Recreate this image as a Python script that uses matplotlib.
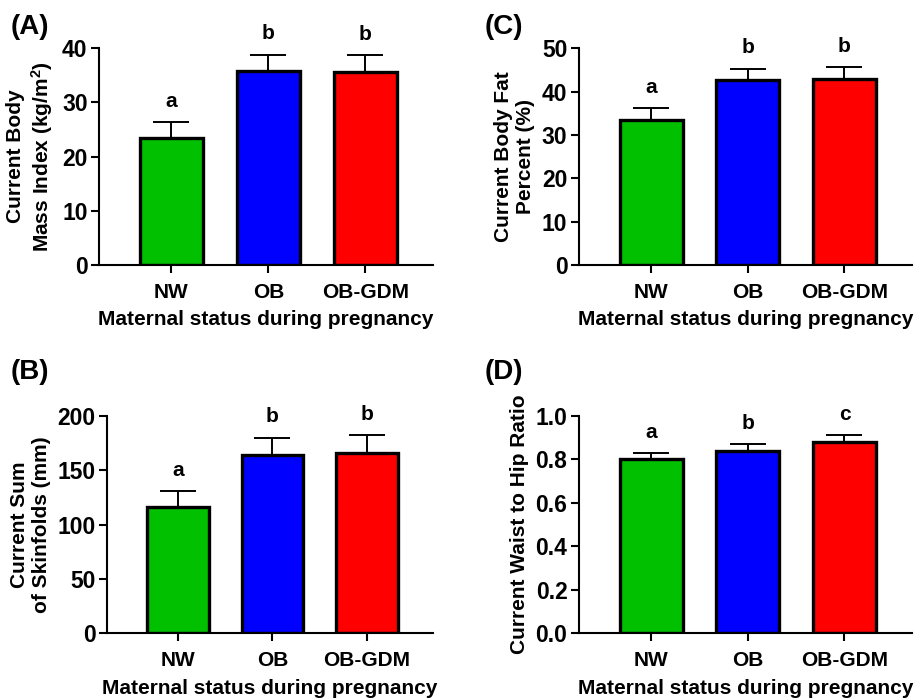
import numpy as np
import matplotlib
matplotlib.use("Agg")
import matplotlib.pyplot as plt

plt.rcParams['font.family'] = ['Liberation Sans', 'DejaVu Sans']
plt.rcParams['font.weight'] = 'bold'
plt.rcParams['mathtext.fontset'] = 'custom'
plt.rcParams['mathtext.rm'] = 'Liberation Sans:bold'
plt.rcParams['mathtext.it'] = 'Liberation Sans:bold'
plt.rcParams['mathtext.bf'] = 'Liberation Sans:bold'

groups = ['NW', 'OB', 'OB-GDM']
colors = ['#00c000', '#0000ff', '#ff0000']
xlabel = 'Maternal status during pregnancy'

# panel A: BMI
bmi_mean = [23.5, 35.8, 35.7]
bmi_err = [2.8, 3.0, 3.0]
bmi_letters = ['a', 'b', 'b']

# panel B: skinfolds
skin_mean = [116, 164, 166]
skin_err = [15, 16, 16]
skin_letters = ['a', 'b', 'b']

# panel C: body fat
fat_mean = [33.5, 42.6, 43.0]
fat_err = [2.7, 2.7, 2.7]
fat_letters = ['a', 'b', 'b']

# panel D: waist to hip
whr_mean = [0.80, 0.84, 0.88]
whr_err = [0.03, 0.03, 0.03]
whr_letters = ['a', 'b', 'c']

fig = plt.figure(figsize=(9.14, 6.99), dpi=100)

def panel(rect, mean, err, letters, ymax, ystep, ylab, tag, tagpos, fmt='%d'):
    ax = fig.add_axes(rect)
    x = np.arange(len(groups))
    ax.bar(x, mean, width=0.65, color=colors, edgecolor='black', linewidth=2.4, zorder=2)
    ax.errorbar(x, mean, yerr=[np.zeros(len(mean)), err], fmt='none', ecolor='black',
                elinewidth=1.4, capsize=13, capthick=1.4, zorder=1)
    for xi, m, e, l in zip(x, mean, err, letters):
        ax.annotate(l, (xi, m + e), xytext=(0, 15), textcoords='offset points',
                    ha='center', va='center', fontsize=15, fontweight='bold')
    ax.set_xlim(-0.75, 2.7)
    ax.set_ylim(0, ymax)
    ax.set_yticks(np.arange(0, ymax + ystep / 2, ystep))
    ax.yaxis.set_major_formatter(matplotlib.ticker.FormatStrFormatter(fmt))
    ax.set_xticks(x)
    ax.set_xticklabels(groups)
    for s in ['top', 'right']:
        ax.spines[s].set_visible(False)
    for s in ['left', 'bottom']:
        ax.spines[s].set_linewidth(1.5)
    ax.tick_params(axis='y', width=1.5, length=6, labelsize=16.5, pad=2)
    ax.tick_params(axis='x', width=1.5, length=6, labelsize=15, pad=7)
    ax.set_ylabel(ylab, fontsize=15, fontweight='bold', labelpad=5)
    ax.set_xlabel(xlabel, fontsize=15, fontweight='bold', labelpad=6)
    ax.patch.set_visible(False)
    fig.text(tagpos[0], tagpos[1], tag, fontsize=20, fontweight='bold', va='center')
    return ax

panel([0.108, 0.621, 0.366, 0.310], bmi_mean, bmi_err, bmi_letters, 40, 10,
      'Current Body\nMass Index (kg/m$^2$)', '(A)', (0.012, 0.962))
panel([0.633, 0.621, 0.365, 0.310], fat_mean, fat_err, fat_letters, 50, 10,
      'Current Body Fat\nPercent (%)', '(C)', (0.530, 0.962))
panel([0.117, 0.094, 0.357, 0.311], skin_mean, skin_err, skin_letters, 200, 50,
      'Current Sum\nof Skinfolds (mm)', '(B)', (0.012, 0.468))
panel([0.633, 0.094, 0.365, 0.311], whr_mean, whr_err, whr_letters, 1.0, 0.2,
      'Current Waist to Hip Ratio', '(D)', (0.530, 0.468), fmt='%.1f')

fig.savefig('out.png', dpi=100)
